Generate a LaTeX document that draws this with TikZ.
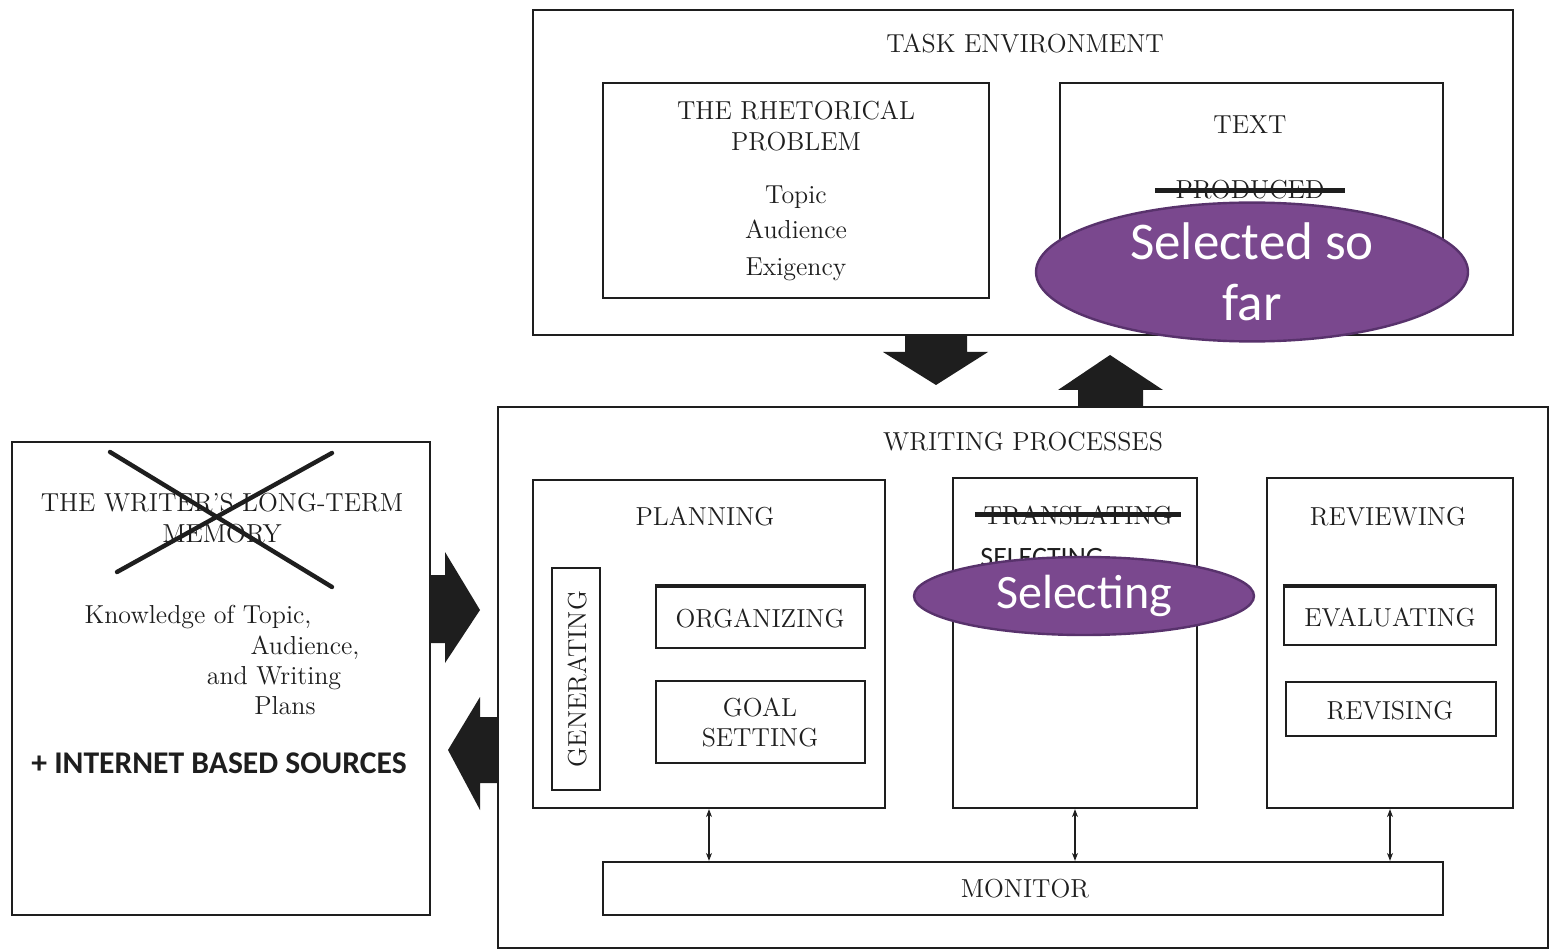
\documentclass[tikz,border=0pt]{standalone}
\usepackage{fontspec}
\newfontfamily\calib{Carlito}
\usetikzlibrary{fit,arrows.meta,shapes.geometric}
\definecolor{ovalfill}{RGB}{122,72,142}
\definecolor{ovaledge}{RGB}{88,50,108}
\definecolor{ink}{RGB}{30,30,30}
\begin{document}
\begin{tikzpicture}[x=0.5pt,y=-0.5pt,
  box/.style={draw=ink,line width=1.3pt,inner sep=0pt},
  inbox/.style={draw=ink,line width=1.1pt,inner sep=0pt},
  lbl/.style={font=\fontsize{13}{16}\selectfont,text=ink,inner sep=0pt,anchor=base},
  sanslbl/.style={font=\calib\bfseries\fontsize{15.8}{18}\selectfont,text=ink,inner sep=0pt,anchor=base},
  oval/.style={ellipse,fill=ovalfill,draw=ovaledge,line width=1.2pt,text=white,
    align=center,inner sep=0pt},
  blk/.style={fill=ink},
  dbl/.style={{Stealth[length=4pt,width=3pt]}-{Stealth[length=4pt,width=3pt]},line width=0.6pt,draw=ink},
  strike/.style={line width=2.5pt,draw=ink},
  cross/.style={line width=2.2pt,line cap=round,draw=ink}
]
\fill[white] (0,0) rectangle (1554,952);
\useasboundingbox (0,0) rectangle (1554,952);

% ---------- Task environment ----------
\node[box,fit={(533,10)(1513,335)}] (task) {};
\node[lbl] (tasklbl) at (1025,53) {TASK ENVIRONMENT};
\node[inbox,fit={(603,83)(989,298)}] (rhet) {};
\node[lbl] (rhet1) at (796,120) {THE RHETORICAL};
\node[lbl] (rhet2) at (796,151) {PROBLEM};
\node[lbl] (topic) at (796,204) {Topic};
\node[lbl] (aud) at (796,239) {Audience};
\node[lbl] (exig) at (796,276) {Exigency};
\node[inbox,fit={(1060,83)(1443,298)}] (text) {};
\node[lbl] (textlbl) at (1250,134) {TEXT};
\node[lbl] (prod) at (1250,199) {PRODUCED};
\draw[strike] ([xshift=-10pt]prod.west) -- ([xshift=10pt]prod.east);

% ---------- Block arrows between task environment and writing processes ----------
\fill[blk] (905,335) -- (967,335) -- (967,352) -- (988,352) -- (936,385) -- (883,352) -- (905,352) -- cycle;
\fill[blk] (1078,407) -- (1143,407) -- (1143,390) -- (1163,390) -- (1110,355) -- (1058,390) -- (1078,390) -- cycle;

% ---------- Writing processes ----------
\node[box,fit={(498,407)(1548,948)}] (wp) {};
\node[lbl] (wplbl) at (1023,451) {WRITING PROCESSES};

\node[inbox,fit={(533,480)(885,808)}] (plan) {};
\node[lbl] (planlbl) at (705,525) {PLANNING};
\node[inbox,fit={(552,568)(600,790)}] (gen) {};
\node[font=\fontsize{13}{16}\selectfont,text=ink,inner sep=0pt,rotate=90] (genlbl) at (577,679) {GENERATING};
\node[inbox,fit={(656,587)(865,648)}] (org) {};
\draw[line width=2.4pt,draw=ink] (org.north west) -- (org.north east);
\node[lbl] (orglbl) at (760,627) {ORGANIZING};
\node[inbox,fit={(656,681)(865,763)}] (goal) {};
\node[lbl] (goal1) at (760,716) {GOAL};
\node[lbl] (goal2) at (760,746) {SETTING};

\node[inbox,fit={(953,478)(1197,808)}] (trans) {};
\node[lbl] (translbl) at (1078,524) {TRANSLATING};
\draw[strike] ([xshift=-4pt]translbl.west) -- ([xshift=4pt]translbl.east);
\node[font=\calib\fontsize{14}{17}\selectfont,text=ink,inner sep=0pt,anchor=base west] (sel) at (980,566) {SELECTING};

\node[inbox,fit={(1267,478)(1513,808)}] (rev) {};
\node[lbl] (revlbl) at (1388,525) {REVIEWING};
\node[inbox,fit={(1284,587)(1496,645)}] (eval) {};
\draw[line width=2.4pt,draw=ink] (eval.north west) -- (eval.north east);
\node[lbl] (evallbl) at (1390,626) {EVALUATING};
\node[inbox,fit={(1286,682)(1496,736)}] (revis) {};
\node[lbl] (revislbl) at (1390,719) {REVISING};

\node[inbox,fit={(603,862)(1443,915)}] (mon) {};
\node[lbl] (monlbl) at (1025,897) {MONITOR};

\draw[dbl] (plan.south) -- (plan.south |- mon.north);
\draw[dbl] (trans.south) -- (trans.south |- mon.north);
\draw[dbl] (rev.south) -- (rev.south |- mon.north);

% ---------- Long-term memory ----------
\node[box,fit={(12,442)(430,915)}] (ltm) {};
\node[lbl] (ltm1) at (222,511) {THE WRITER'S LONG-TERM};
\node[lbl] (ltm2) at (222,542) {MEMORY};
\draw[cross] (110,452) -- (332,587);
\draw[cross] (117,572) -- (332,453);
\node[lbl] (know1) at (198,623) {Knowledge of Topic,};
\node[lbl] (know2) at (305,654) {Audience,};
\node[lbl] (know3) at (274,684) {and Writing};
\node[lbl] (know4) at (285,714) {Plans};
\node[sanslbl] (inet) at (219,773) {+ INTERNET BASED SOURCES};

% ---------- Block arrows between memory and writing processes ----------
\fill[blk] (430,575) -- (445,575) -- (445,552) -- (480,610) -- (445,663) -- (445,643) -- (430,643) -- cycle;
\fill[blk] (498,717) -- (480,717) -- (480,697) -- (448,750) -- (480,810) -- (480,783) -- (498,783) -- cycle;

% ---------- Purple overlays ----------
\node[oval,minimum width=216pt,minimum height=62pt,font=\calib\fontsize{26.5}{30.5}\selectfont] (selfar) at (1252,272) {Selected so\\far};
\node[oval,minimum width=170pt,minimum height=39pt,font=\calib\fontsize{24}{30}\selectfont] (selecting) at (1084,596) {Selecting};
\end{tikzpicture}
\end{document}
